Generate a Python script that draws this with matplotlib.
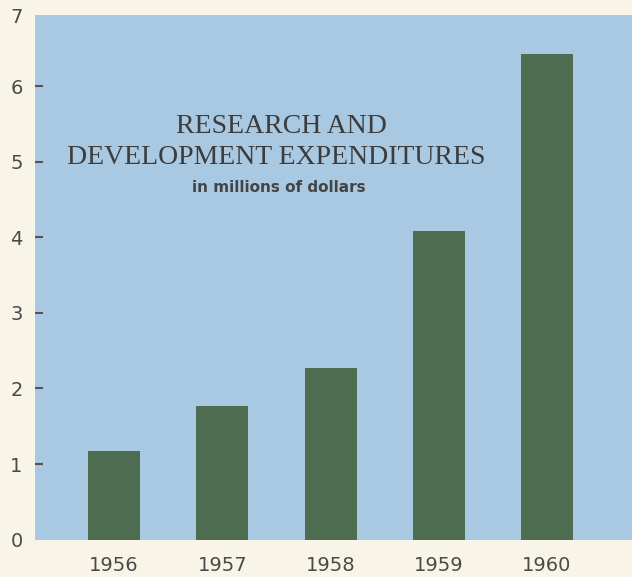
import matplotlib.pyplot as plt

# R&D spending per year, millions of dollars
years = ['1956', '1957', '1958', '1959', '1960']
spending = [1.17, 1.77, 2.27, 4.08, 6.42]
y_ticks = [0, 1, 2, 3, 4, 5, 6]

paper = '#f8f5e8'
sky = '#a9c9e2'
bar_green = '#4e6c50'
ink = '#3c3c3c'

fig = plt.figure(figsize=(6.32, 5.77), dpi=100, facecolor=paper)
ax = fig.add_axes([0.0554, 0.0648, 0.9446, 0.9092])
ax.set_facecolor(sky)

x = range(len(years))
ax.bar(x, spending, width=0.48, color=bar_green)

ax.set_xlim(-0.73, 4.785)
top = 6.94
ax.set_ylim(0, top)

# the "7" sits on the top edge of the panel
ax.set_yticks(y_ticks + [top])
ax.set_yticklabels([str(t) for t in y_ticks] + ['7'])
ax.set_xticks(list(x))
ax.set_xticklabels(years)

ax.tick_params(axis='y', direction='in', length=6, width=1.5, color='#555555',
               labelsize=14, labelcolor='#4a4a4a', pad=9)
ax.tick_params(axis='x', length=0, labelsize=14, labelcolor='#4a4a4a', pad=12)
yt = ax.yaxis.get_major_ticks()
yt[0].tick1line.set_visible(False)
yt[-1].tick1line.set_visible(False)

for s in ax.spines.values():
    s.set_visible(False)

ax.text(1.55, 5.38, 'RESEARCH AND', family='Liberation Serif', fontsize=20,
        color=ink, ha='center', va='baseline')
ax.text(1.50, 4.97, 'DEVELOPMENT EXPENDITURES', family='Liberation Serif',
        fontsize=20, color=ink, ha='center', va='baseline')
ax.text(1.52, 4.60, 'in millions of dollars', fontsize=11, fontweight='bold',
        color='#444444', ha='center', va='baseline')

fig.savefig('out.png', dpi=100, facecolor=paper)
